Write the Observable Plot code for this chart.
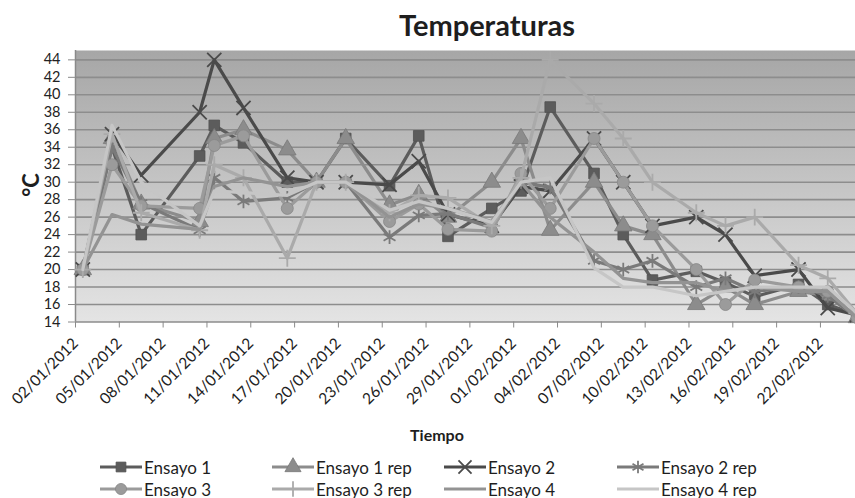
<!DOCTYPE html>
<html>
<head>
<meta charset="utf-8">
<script src="https://cdn.jsdelivr.net/npm/d3@7"></script>
<script src="https://cdn.jsdelivr.net/npm/@observablehq/plot@0.6"></script>
<style>
html,body{margin:0;padding:0;background:#fff;overflow:hidden;}
#wrap{position:relative;width:855px;height:498px;font-family:Lato,"Open Sans",sans-serif;color:#1e1e1e;}
#chart{position:absolute;left:0;top:0;}
#title{position:absolute;left:337px;width:300px;top:8px;text-align:center;font-weight:bold;font-size:29px;line-height:34px;}
#ylab{position:absolute;left:30px;top:185px;transform:translate(-50%,-50%) rotate(-90deg);font-weight:bold;font-size:22px;}
#xlab{position:absolute;left:387px;width:100px;top:425px;text-align:center;font-weight:bold;font-size:16px;}
.item{position:absolute;display:flex;align-items:center;font-size:17px;white-space:nowrap;height:20px;}
.item svg{margin-right:2px;}
</style>
</head>
<body>
<div id="wrap">
  <div id="chart"></div>
  <div id="title">Temperaturas</div>
  <div id="ylab">°C</div>
  <div id="xlab">Tiempo</div>
  <div id="legend"></div>
</div>
<script>
// ---- data ----
const fechas = ["2012-01-02","2012-01-04","2012-01-06","2012-01-10","2012-01-11","2012-01-13","2012-01-16","2012-01-18","2012-01-20","2012-01-23","2012-01-25","2012-01-27","2012-01-30","2012-02-01","2012-02-03","2012-02-06","2012-02-08","2012-02-10","2012-02-13","2012-02-15","2012-02-17","2012-02-20","2012-02-22","2012-02-24"];
const ensayo1    = [20,34,24,33,36.5,34.5,30,30,35,29.6,35.3,23.8,27,29,38.6,31,24,18.8,19.8,18.5,16.9,18.3,16,14.8];
const ensayo1rep = [20,35,27.5,25.5,35,36,33.7,30,35,27.4,28.6,26,30,35,24.5,30,25,24,16,18,16,17.5,17,14.5];
const ensayo2    = [20,35.5,30.8,38,44,38.5,30.5,30,30,29.7,32.4,26.3,25,29.5,29,35,30,25,26,24,19.3,20,15.6,14.8];
const ensayo2rep = [20,34,27.6,24.5,30.5,27.8,28.2,30,30,23.7,26.2,26.4,24.8,30,29.4,21,20,21,18,19,17.5,18,17,14.5];
const ensayo3    = [20,32,27.3,27,34.2,35.3,27,30,30,25.5,27.5,24.6,24.4,31,27,35,30,25,20,16,18.8,18,17.5,14.5];
const ensayo3rep = [20,35.5,26.5,24.5,32,30.5,21.3,30,30,26.5,28.5,28.2,25,30.5,44,39,35,30,26.5,25,26,20.5,19,15];
const ensayo4    = [20,26.3,25.2,24.6,29.5,30.5,29.5,30,30,26,27.5,27,25.5,30,26,22,19,18.5,18.5,17.5,18,17.5,17.5,14.5];
const ensayo4rep = [20,36.5,30,25,29,28.8,28.5,30,30,26.8,27.8,27,25.4,30,30.5,20.2,18,18,17,17.5,18,18,18,15];
const nombres = ["Ensayo 1","Ensayo 1 rep","Ensayo 2","Ensayo 2 rep","Ensayo 3","Ensayo 3 rep","Ensayo 4","Ensayo 4 rep"];
const valores = [ensayo1,ensayo1rep,ensayo2,ensayo2rep,ensayo3,ensayo3rep,ensayo4,ensayo4rep];
const xTickLabels = ["02/01/2012","05/01/2012","08/01/2012","11/01/2012","14/01/2012","17/01/2012","20/01/2012","23/01/2012","26/01/2012","29/01/2012","01/02/2012","04/02/2012","07/02/2012","10/02/2012","13/02/2012","16/02/2012","19/02/2012","22/02/2012"];
const yTicks = [14,16,18,20,22,24,26,28,30,32,34,36,38,40,42,44];

// ---- styles ----
const estilos = [
  {color:"#5c5c5c", symbol:"square",   r:6,   filled:true},
  {color:"#8c8c8c", symbol:"triangle", r:6.5, filled:true},
  {color:"#4a4a4a", symbol:"times",    r:6.5, filled:false},
  {color:"#7a7a7a", symbol:"asterisk", r:6.5, filled:false},
  {color:"#9b9b9b", symbol:"circle",   r:6,   filled:true},
  {color:"#aaaaaa", symbol:"plus",     r:5.5, filled:false},
  {color:"#939393", symbol:null},
  {color:"#c6c6c6", symbol:null}
];

const parseISO = d3.utcParse("%Y-%m-%d");
const parseDMY = d3.utcParse("%d/%m/%Y");
const DAY = 864e5;
const t0 = parseISO(fechas[0]);
const tEnd = new Date(+t0 + 53.4 * DAY);
const xTickDates = xTickLabels.map(parseDMY);
const xOf = d => new Date(+d.fecha + DAY / 2);

const rows = nombres.flatMap((n, k) => valores[k].map((v, i) => ({serie: n, fecha: parseISO(fechas[i]), valor: v})));

const marks = [
  Plot.frame({fill: "url(#plotBg)"}),
  Plot.ruleY(yTicks, {stroke: "#8d8d8d", strokeWidth: 1.6}),
  Plot.ruleX([t0], {stroke: "#8a8a8a", strokeWidth: 1.5}),
  Plot.axisY(yTicks, {tickSize: 7, tickPadding: 8, fontSize: 14.5, stroke: "#8a8a8a", fill: "#222", label: null}),
  Plot.axisX(xTickDates, {tickSize: 6, tickPadding: 13, tickRotate: -45, fontSize: 15.5, stroke: "#8a8a8a", fill: "#222", tickFormat: d3.utcFormat("%d/%m/%Y"), label: null})
];
nombres.forEach((n, k) => {
  const s = estilos[k];
  const data = rows.filter(d => d.serie === n);
  marks.push(Plot.line(data, {x: xOf, y: "valor", stroke: s.color, strokeWidth: 3.2, strokeLinejoin: "round"}));
  if (s.symbol) {
    marks.push(Plot.dot(data, s.filled
      ? {x: xOf, y: "valor", symbol: s.symbol, r: s.r, fill: s.color, stroke: d3.color(s.color).darker(0.4).formatHex(), strokeWidth: 0.8}
      : {x: xOf, y: "valor", symbol: s.symbol, r: s.r, fill: "none", stroke: s.color, strokeWidth: 1.8}));
  }
});

const svg = Plot.plot({
  width: 855, height: 420,
  marginLeft: 75, marginRight: 0, marginTop: 50, marginBottom: 98.5,
  x: {type: "utc", domain: [t0, tEnd]},
  y: {domain: [14, 45.07], label: null},
  style: {fontFamily: "Lato, 'Open Sans', sans-serif", color: "#222", background: "transparent", overflow: "visible"},
  marks
});
const defs = d3.select(svg).insert("defs", ":first-child");
const g = defs.append("linearGradient").attr("id", "plotBg").attr("x1", 0).attr("y1", 0).attr("x2", 0).attr("y2", 1);
g.append("stop").attr("offset", "0%").attr("stop-color", "#a6a6a6");
g.append("stop").attr("offset", "100%").attr("stop-color", "#e4e4e4");
document.getElementById("chart").appendChild(svg);

// ---- legend ----
const legX = [100, 272, 444, 617];
const legY = [457, 479];
const legend = d3.select("#legend");
const symMap = {square: d3.symbolSquare, triangle: d3.symbolTriangle, times: d3.symbolTimes, asterisk: d3.symbolAsterisk, circle: d3.symbolCircle, plus: d3.symbolPlus};
nombres.forEach((n, k) => {
  const s = estilos[k];
  const col = k % 4, row = Math.floor(k / 4);
  const item = legend.append("div").attr("class", "item").style("left", legX[col] + "px").style("top", legY[row] + "px");
  const sv = item.append("svg").attr("width", 42).attr("height", 20);
  sv.append("line").attr("x1", 0).attr("x2", 42).attr("y1", 10).attr("y2", 10).attr("stroke", s.color).attr("stroke-width", 3.2);
  if (s.symbol) {
    const size = Math.PI * s.r * s.r * 0.85;
    const p = sv.append("path").attr("transform", "translate(21,10)").attr("d", d3.symbol(symMap[s.symbol], size)());
    if (s.filled) p.attr("fill", s.color).attr("stroke", d3.color(s.color).darker(0.4).formatHex()).attr("stroke-width", 0.8);
    else p.attr("fill", "none").attr("stroke", s.color).attr("stroke-width", 1.8);
  }
  item.append("span").text(n);
});
</script>
</body>
</html>
